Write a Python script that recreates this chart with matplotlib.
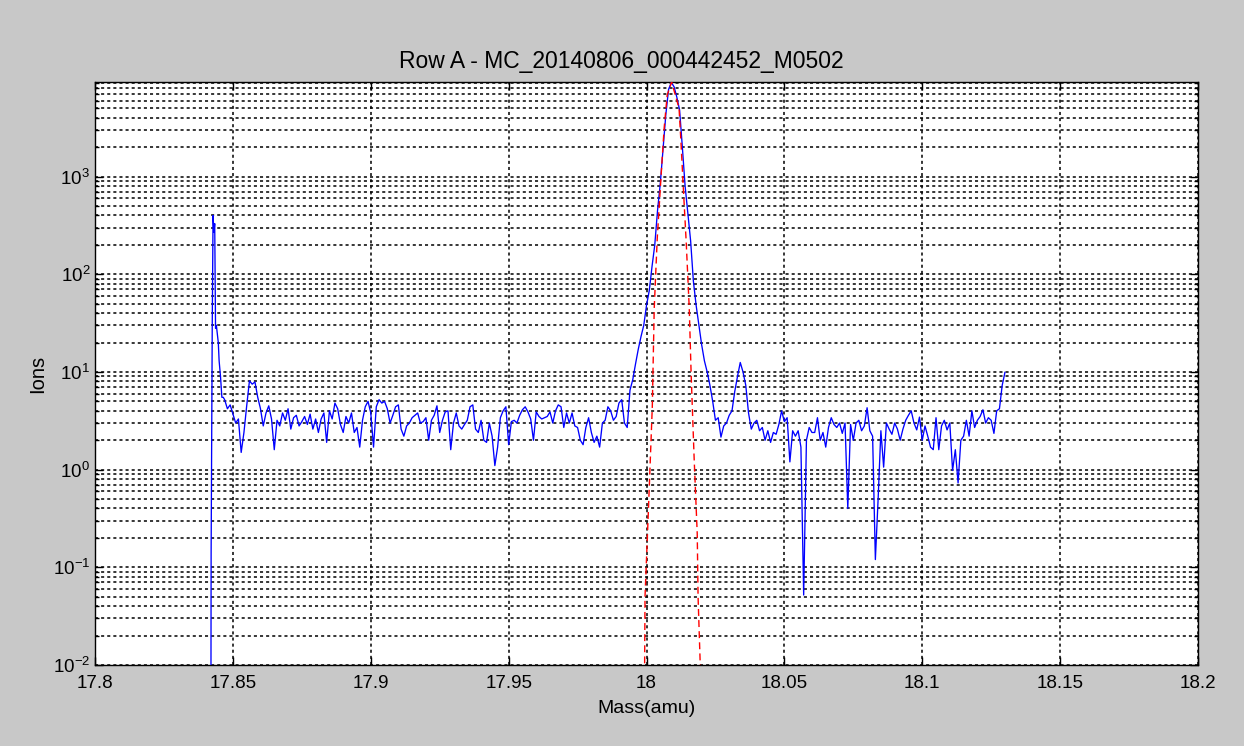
import matplotlib
matplotlib.use('Agg')
import matplotlib.pyplot as plt
from matplotlib.ticker import LogLocator, NullFormatter

# ---------------- data ----------------
title = "Row A - MC_20140806_000442452_M0502"
x_label = "Mass(amu)"
y_label = "Ions"

x_ticks = [17.8, 17.85, 17.9, 17.95, 18.0, 18.05, 18.1, 18.15, 18.2]
x_tick_labels = ["17.8", "17.85", "17.9", "17.95", "18", "18.05", "18.1", "18.15", "18.2"]
y_ticks = [1e-2, 1e-1, 1e0, 1e1, 1e2, 1e3]
y_tick_labels = [r"$10^{-2}$", r"$10^{-1}$", r"$10^{0}$", r"$10^{1}$", r"$10^{2}$", r"$10^{3}$"]

# leading spike of the spectrum
lead_mass = [17.8420, 17.8421, 17.8425, 17.8428, 17.8431, 17.8434, 17.8437,
             17.8440, 17.8443, 17.8447, 17.8450, 17.8455, 17.8460, 17.8465]
lead_ions = [0.001, 0.14, 28, 400, 270, 330, 28,
             30, 25, 20, 13, 9, 5.5, 5.5]

# main spectrum trace
trace_mass = [
    17.847, 17.848, 17.849, 17.850, 17.851, 17.852, 17.853, 17.854, 17.855, 17.856,
    17.857, 17.858, 17.859, 17.860, 17.861, 17.862, 17.863, 17.864, 17.865, 17.866,
    17.867, 17.868, 17.869, 17.870, 17.871, 17.872, 17.873, 17.874, 17.875, 17.876,
    17.877, 17.878, 17.879, 17.880, 17.881, 17.882, 17.883, 17.884, 17.885, 17.886,
    17.887, 17.888, 17.889, 17.890, 17.891, 17.892, 17.893, 17.894, 17.895, 17.896,
    17.897, 17.898, 17.899, 17.900, 17.901, 17.902, 17.903, 17.904, 17.905, 17.906,
    17.907, 17.908, 17.909, 17.910, 17.911, 17.912, 17.913, 17.914, 17.915, 17.916,
    17.917, 17.918, 17.919, 17.920, 17.921, 17.922, 17.923, 17.924, 17.925, 17.926,
    17.927, 17.928, 17.929, 17.930, 17.931, 17.932, 17.933, 17.934, 17.935, 17.936,
    17.937, 17.938, 17.939, 17.940, 17.941, 17.942, 17.943, 17.944, 17.945, 17.946,
    17.947, 17.948, 17.949, 17.950, 17.951, 17.952, 17.953, 17.954, 17.955, 17.956,
    17.957, 17.958, 17.959, 17.960, 17.961, 17.962, 17.963, 17.964, 17.965, 17.966,
    17.967, 17.968, 17.969, 17.970, 17.971, 17.972, 17.973, 17.974, 17.975, 17.976,
    17.977, 17.978, 17.979, 17.980, 17.981, 17.982, 17.983, 17.984, 17.985, 17.986,
    17.987, 17.988, 17.989, 17.990, 17.991, 17.992, 17.993, 17.994, 17.995, 17.996,
    17.997, 17.998, 17.999, 18.000, 18.001, 18.002, 18.003, 18.004, 18.005, 18.006,
    18.007, 18.008, 18.009, 18.010, 18.011, 18.012, 18.013, 18.014, 18.015, 18.016,
    18.017, 18.018, 18.019, 18.020, 18.021, 18.022, 18.023, 18.024, 18.025, 18.026,
    18.027, 18.028, 18.029, 18.030, 18.031, 18.032, 18.033, 18.034, 18.035, 18.036,
    18.037, 18.038, 18.039, 18.040, 18.041, 18.042, 18.043, 18.044, 18.045, 18.046,
    18.047, 18.048, 18.049, 18.050, 18.051, 18.052, 18.053, 18.054, 18.055, 18.056,
    18.057, 18.058, 18.059, 18.060, 18.061, 18.062, 18.063, 18.064, 18.065, 18.066,
    18.067, 18.068, 18.069, 18.070, 18.071, 18.072, 18.073, 18.074, 18.075, 18.076,
    18.077, 18.078, 18.079, 18.080, 18.081, 18.082, 18.083, 18.084, 18.085, 18.086,
    18.087, 18.088, 18.089, 18.090, 18.091, 18.092, 18.093, 18.094, 18.095, 18.096,
    18.097, 18.098, 18.099, 18.100, 18.101, 18.102, 18.103, 18.104, 18.105, 18.106,
    18.107, 18.108, 18.109, 18.110, 18.111, 18.112, 18.113, 18.114, 18.115, 18.116,
    18.117, 18.118, 18.119, 18.120, 18.121, 18.122, 18.123, 18.124, 18.125, 18.126,
    18.127, 18.128, 18.129, 18.130,
]
trace_ions = [
    5.2, 4.2, 4.6, 3.7, 3.0, 3.3, 1.5, 2.4, 4.5, 8.1,
    7.5, 7.9, 5.5, 4.2, 2.8, 3.8, 4.5, 3.3, 1.6, 3.2,
    2.8, 3.8, 3.2, 4.2, 2.6, 3.4, 3.6, 2.8, 3.1, 3.5,
    2.9, 3.7, 2.6, 3.3, 2.4, 3.3, 3.8, 1.9, 4.0, 3.3,
    4.8, 4.2, 2.9, 2.4, 3.5, 3.0, 3.8, 2.4, 2.7, 1.7,
    3.2, 4.4, 5.0, 3.8, 1.7, 4.4, 5.2, 4.8, 5.0, 4.2,
    3.0, 3.6, 4.4, 4.6, 2.6, 2.2, 2.8, 3.0, 3.4, 3.6,
    3.8, 3.0, 3.1, 3.4, 2.0, 3.2, 3.6, 4.5, 2.4, 3.2,
    3.9, 4.0, 1.6, 3.0, 3.8, 2.8, 2.6, 2.9, 3.2, 4.4,
    4.6, 2.6, 2.4, 3.2, 2.0, 1.9, 3.0, 2.2, 1.1, 1.7,
    3.4, 4.0, 4.4, 1.8, 3.1, 3.2, 3.0, 3.6, 4.1, 4.4,
    3.9, 3.3, 2.0, 3.9, 3.5, 3.3, 3.4, 3.5, 3.9, 3.0,
    4.0, 4.6, 4.4, 2.7, 3.8, 3.0, 3.8, 2.8, 2.7, 2.0,
    1.8, 2.7, 3.4, 2.4, 1.9, 2.2, 1.7, 3.0, 3.2, 4.4,
    4.0, 3.2, 3.5, 4.8, 5.2, 3.0, 2.7, 6.5, 8.3, 12,
    17, 23, 30, 48, 68, 120, 200, 450, 850, 1900,
    4300, 7800, 9200, 8300, 6500, 4800, 2000, 800, 420, 220,
    85, 48, 30, 19, 13, 10, 7.3, 5.0, 3.2, 3.4,
    2.15, 2.8, 3.0, 3.6, 4.0, 6.3, 9.0, 12.5, 10, 7.3,
    3.8, 2.6, 3.0, 3.2, 2.5, 2.7, 2.0, 2.5, 1.9, 2.4,
    2.3, 2.9, 4.0, 3.1, 3.4, 1.2, 2.5, 2.2, 2.5, 1.7,
    0.052, 2.0, 2.7, 2.4, 2.4, 3.4, 2.0, 2.4, 1.7, 2.7,
    3.4, 2.9, 2.7, 3.0, 2.35, 3.0, 0.4, 2.9, 2.0, 3.0,
    3.2, 2.5, 2.8, 4.3, 2.5, 2.2, 0.12, 0.5, 2.5, 1.06,
    3.0, 2.6, 2.3, 3.0, 2.6, 2.0, 2.6, 3.2, 3.6, 4.0,
    3.0, 2.55, 3.45, 2.0, 2.8, 2.2, 1.7, 1.6, 3.4, 1.6,
    2.8, 3.2, 2.55, 3.0, 0.98, 1.6, 0.73, 2.0, 2.2, 3.2,
    2.2, 4.0, 2.7, 3.2, 3.5, 4.1, 3.0, 3.4, 3.2, 2.35,
    4.0, 4.2, 7.3, 9.9,
]

# fitted peak (red dashed)
fit_mass = [17.9993, 17.99946, 18.0006, 18.0021, 18.0028, 18.0039, 18.0053, 18.0064,
            18.0075, 18.0091, 18.0118, 18.0125, 18.0133, 18.0144, 18.0155, 18.0162,
            18.0173, 18.0184, 18.0187, 18.0196]
fit_ions = [0.008, 0.05, 0.33, 4.4, 45, 235, 1035, 3140,
            6820, 9300, 5020, 2250, 818, 213, 45, 9.3,
            1.25, 0.22, 0.05, 0.008]

mass = lead_mass + trace_mass
ions = lead_ions + trace_ions

# ---------------- drawing ----------------
plt.rcParams['font.family'] = ['Liberation Sans', 'DejaVu Sans']
plt.rcParams['mathtext.default'] = 'regular'

fig = plt.figure(figsize=(12.44, 7.46), dpi=100, facecolor='#c8c8c8')
ax = fig.add_axes([0.0764, 0.1086, 0.8866, 0.7815])
ax.set_facecolor('white')

ax.plot(mass, ions, color='#0000ff', lw=0.95, zorder=3)
ax.plot(fit_mass, fit_ions, color='#ff0000', lw=1.0, ls=(0, (5, 3)), zorder=4)

ax.set_yscale('log')
ax.set_xlim(17.8, 18.2)
ax.set_ylim(0.01, 9300)

ax.set_xticks(x_ticks)
ax.set_xticklabels(x_tick_labels)
ax.set_yticks(y_ticks)
ax.set_yticklabels(y_tick_labels)
ax.yaxis.set_minor_locator(LogLocator(base=10, subs=[2, 3, 4, 5, 6, 7, 8, 9], numticks=20))
ax.yaxis.set_minor_formatter(NullFormatter())

grid_style = dict(color='black', lw=1.1, ls=(0, (2, 2)))
ax.grid(True, which='major', axis='both', **grid_style)
ax.grid(True, which='minor', axis='y', **grid_style)
ax.set_axisbelow(True)

ax.tick_params(which='both', direction='in', top=True, right=True, colors='black',
               labelsize=13.5)
ax.tick_params(which='major', length=6, width=1)
ax.tick_params(which='minor', length=3, width=1)
ax.tick_params(axis='x', pad=7)
for s in ax.spines.values():
    s.set_color('black')
    s.set_linewidth(1.0)

ax.set_title(title, fontsize=16.5, pad=10, x=0.477)
ax.set_xlabel(x_label, fontsize=14, labelpad=6)
ax.set_ylabel(y_label, fontsize=14.5, labelpad=4)

fig.savefig('out.png', dpi=100, facecolor=fig.get_facecolor())
